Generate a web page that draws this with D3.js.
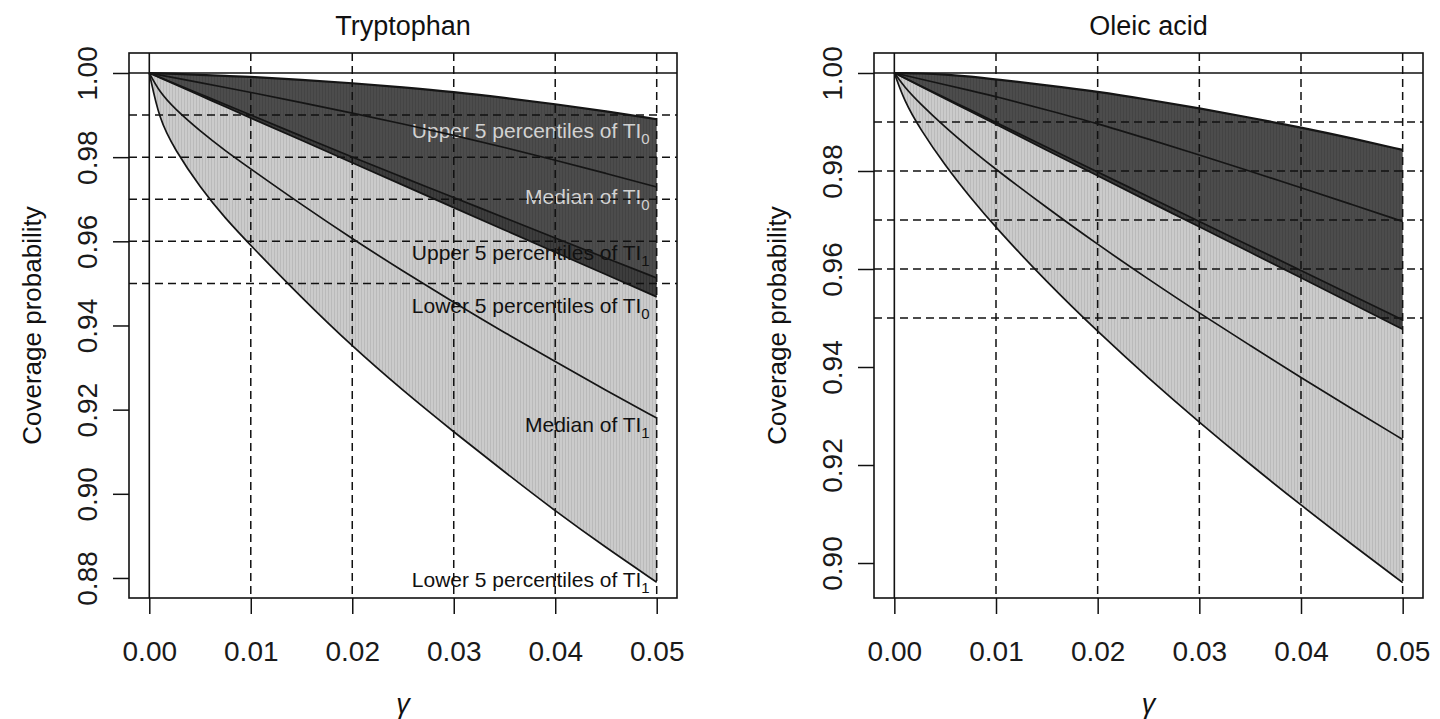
<!DOCTYPE html>
<html>
<head>
<meta charset="utf-8">
<script src="https://cdn.jsdelivr.net/npm/d3@7"></script>
<style>
  body { margin: 0; background: #fff; }
  svg { display: block; font-family: "Liberation Sans", Arial, sans-serif; }
</style>
</head>
<body>
<script>
// gamma grid shared by all curves
const gamma = [0, 0.001, 0.0025, 0.005, 0.0075, 0.01, 0.015, 0.02, 0.025, 0.03, 0.035, 0.04, 0.045, 0.05];

// Tryptophan
const tryUpperTI0  = [1, 0.99992, 0.9998, 0.99955, 0.9993, 0.9991, 0.9984, 0.9976, 0.9966, 0.9955, 0.9941, 0.9926, 0.9909, 0.989];
const tryMedianTI0 = [1, 0.99954, 0.99885, 0.9977, 0.99655, 0.9954, 0.99295, 0.9905, 0.9879, 0.9852, 0.9823, 0.9793, 0.97615, 0.9729];
const tryLowerTI0  = [1, 0.99893, 0.99732, 0.99465, 0.99197, 0.9893, 0.984, 0.9787, 0.97335, 0.968, 0.9627, 0.9574, 0.9521, 0.9468];
const tryUpperTI1  = [1, 0.999, 0.9975, 0.995, 0.9925, 0.99, 0.985, 0.98, 0.9752, 0.9704, 0.9656, 0.9608, 0.956, 0.9513];
const tryMedianTI1 = [1, 0.9955, 0.9915, 0.9862, 0.9815, 0.9772, 0.9687, 0.9606, 0.9529, 0.9455, 0.9383, 0.9314, 0.9246, 0.918];
const tryLowerTI1  = [1, 0.9888, 0.9819, 0.9728, 0.9654, 0.959, 0.9466, 0.935, 0.9245, 0.9147, 0.9052, 0.8959, 0.8872, 0.879];

// Oleic acid
const oleUpperTI0  = [1, 0.99998, 0.99992, 0.9997, 0.9993, 0.9987, 0.9975, 0.9962, 0.99455, 0.9928, 0.99088, 0.9889, 0.9867, 0.9843];
const oleMedianTI0 = [1, 0.99952, 0.9988, 0.9976, 0.9964, 0.9952, 0.99245, 0.9897, 0.9865, 0.9833, 0.97995, 0.9766, 0.97315, 0.9697];
const oleLowerTI0  = [1, 0.99895, 0.99738, 0.99475, 0.99213, 0.9895, 0.98425, 0.979, 0.9738, 0.9686, 0.9634, 0.9582, 0.95295, 0.9477];
const oleUpperTI1  = [1, 0.999, 0.99748, 0.99495, 0.99243, 0.9899, 0.98485, 0.9798, 0.97475, 0.9697, 0.9647, 0.9597, 0.95465, 0.9496];
const oleMedianTI1 = [1, 0.9971, 0.9938, 0.9889, 0.9845, 0.9803, 0.9725, 0.965, 0.9579, 0.951, 0.9444, 0.9378, 0.9315, 0.9252];
const oleLowerTI1  = [1, 0.9942, 0.9887, 0.9811, 0.9745, 0.9684, 0.9573, 0.9472, 0.9377, 0.9287, 0.9201, 0.9118, 0.9038, 0.896];

// axes, reference lines
const xTicks = [0, 0.01, 0.02, 0.03, 0.04, 0.05];
const tryYTicks = [0.88, 0.90, 0.92, 0.94, 0.96, 0.98, 1.00];
const oleYTicks = [0.90, 0.92, 0.94, 0.96, 0.98, 1.00];
const hDashed = [0.95, 0.96, 0.97, 0.98, 0.99];
const vDashed = [0.01, 0.02, 0.03, 0.04, 0.05];

// text labels in the Tryptophan panel: [main text, subscript, y value, light?]
const tryLabels = [
    ['Upper 5 percentiles of TI', '0', 0.9862, true],
    ['Median of TI', '0', 0.9705, true],
    ['Upper 5 percentiles of TI', '1', 0.9572, false],
    ['Lower 5 percentiles of TI', '0', 0.9446, false],
    ['Median of TI', '1', 0.9163, false],
    ['Lower 5 percentiles of TI', '1', 0.8795, false]
];

const W = 1440, H = 719;
const svg = d3.select('body').append('svg').attr('width', W).attr('height', H);

// vertical hatch patterns
const defs = svg.append('defs');
let pl = defs.append('pattern').attr('id', 'hatchLight').attr('patternUnits', 'userSpaceOnUse')
    .attr('width', 3).attr('height', 10);
pl.append('rect').attr('width', 3).attr('height', 10).attr('fill', '#cbcbcb');
pl.append('rect').attr('x', 1).attr('width', 1).attr('height', 10).attr('fill', '#bababa');
let pd = defs.append('pattern').attr('id', 'hatchDark').attr('patternUnits', 'userSpaceOnUse')
    .attr('width', 3).attr('height', 10);
pd.append('rect').attr('width', 3).attr('height', 10).attr('fill', 'rgba(0,0,0,0.70)');
pd.append('rect').attr('x', 1).attr('width', 1).attr('height', 10).attr('fill', 'rgba(0,0,0,0.10)');

function drawPanel(opt) {
    const x = d3.scaleLinear().domain([-0.002, 0.052]).range([opt.left, opt.right]);
    const y = d3.scaleLinear().domain(opt.yDomain).range([opt.bottom, opt.top]);
    const g = svg.append('g');

    const band = (lo, hi) => d3.area()
        .x((d, i) => x(gamma[i]))
        .y0((d, i) => y(lo[i]))
        .y1((d, i) => y(hi[i]))
        .curve(d3.curveBasis)(gamma);

    // TI1 band then TI0 band on top
    g.append('path').attr('d', band(opt.s.lowerTI1, opt.s.upperTI1)).attr('fill', 'url(#hatchLight)');
    g.append('path').attr('d', band(opt.s.lowerTI0, opt.s.upperTI0)).attr('fill', 'url(#hatchDark)');

    // labels
    if (opt.labels) {
        opt.labels.forEach(l => {
            let t = g.append('text')
                .attr('x', x(0.05) - 7)
                .attr('y', y(l[2]) + 7)
                .attr('text-anchor', 'end')
                .attr('font-size', 21)
                .attr('fill', l[3] ? '#d2d2d2' : '#111');
            t.append('tspan').text(l[0]);
            t.append('tspan').attr('font-size', 15).attr('dy', 6).text(l[1]);
        });
    }

    // reference lines
    g.selectAll('.hd').data(hDashed).enter().append('line')
        .attr('x1', opt.left).attr('x2', opt.right)
        .attr('y1', d => y(d)).attr('y2', d => y(d))
        .attr('stroke', '#111').attr('stroke-width', 1.5).attr('stroke-dasharray', '8,5');
    g.selectAll('.vd').data(vDashed).enter().append('line')
        .attr('y1', opt.top).attr('y2', opt.bottom)
        .attr('x1', d => x(d)).attr('x2', d => x(d))
        .attr('stroke', '#111').attr('stroke-width', 1.5).attr('stroke-dasharray', '8,5');
    g.append('line').attr('x1', opt.left).attr('x2', opt.right).attr('y1', y(1)).attr('y2', y(1))
        .attr('stroke', '#111').attr('stroke-width', 1.6);
    g.append('line').attr('x1', x(0)).attr('x2', x(0)).attr('y1', opt.top).attr('y2', opt.bottom)
        .attr('stroke', '#111').attr('stroke-width', 1.6);

    // curves
    const line = d3.line().x((d, i) => x(gamma[i])).y(d => y(d)).curve(d3.curveBasis);
    [opt.s.upperTI0, opt.s.medianTI0, opt.s.lowerTI0, opt.s.upperTI1, opt.s.medianTI1, opt.s.lowerTI1]
        .forEach((arr, k) => {
            g.append('path').attr('d', line(arr)).attr('fill', 'none')
                .attr('stroke', '#151515').attr('stroke-width', k === 0 ? 2.2 : 1.7);
        });

    // box
    g.append('rect').attr('x', opt.left).attr('y', opt.top)
        .attr('width', opt.right - opt.left).attr('height', opt.bottom - opt.top)
        .attr('fill', 'none').attr('stroke', '#111').attr('stroke-width', 1.6);

    // axes
    let ax = g.append('g').attr('transform', `translate(0,${opt.bottom})`)
        .call(d3.axisBottom(x).tickValues(xTicks).tickFormat(d3.format('.2f')).tickSize(16).tickSizeOuter(0));
    ax.select('.domain').remove();
    ax.selectAll('line').attr('stroke', '#111').attr('stroke-width', 1.5);
    ax.selectAll('text').attr('y', 63).attr('dy', 0).attr('font-size', 28).attr('fill', '#1a1a1a')
        .attr('font-family', '"Liberation Sans", Arial, sans-serif');

    let ay = g.append('g').attr('transform', `translate(${opt.left},0)`)
        .call(d3.axisLeft(y).tickValues(opt.yTicks).tickFormat(d3.format('.2f')).tickSize(16).tickSizeOuter(0));
    ay.select('.domain').remove();
    ay.selectAll('line').attr('stroke', '#111').attr('stroke-width', 1.5);
    ay.selectAll('text').attr('transform', 'rotate(-90)').attr('x', 0).attr('y', -32).attr('dy', 0)
        .attr('text-anchor', 'middle').attr('font-size', 28).attr('fill', '#1a1a1a')
        .attr('font-family', '"Liberation Sans", Arial, sans-serif');

    // titles
    const cx = (opt.left + opt.right) / 2, cy = (opt.top + opt.bottom) / 2;
    g.append('text').attr('x', cx).attr('y', 35).attr('text-anchor', 'middle')
        .attr('font-size', 27).attr('fill', '#111').text(opt.title);
    g.append('text').attr('x', cx).attr('y', 713).attr('text-anchor', 'middle')
        .attr('font-size', 27).attr('font-style', 'italic').attr('fill', '#111').text('γ');
    g.append('text').attr('transform', `translate(${opt.left - 88},${cy}) rotate(-90)`)
        .attr('text-anchor', 'middle').attr('font-size', 26).attr('fill', '#111').text('Coverage probability');
}

drawPanel({
    left: 129, right: 677, top: 53, bottom: 598,
    yDomain: [0.87524, 1.00475], yTicks: tryYTicks, title: 'Tryptophan', labels: tryLabels,
    s: { upperTI0: tryUpperTI0, medianTI0: tryMedianTI0, lowerTI0: tryLowerTI0,
         upperTI1: tryUpperTI1, medianTI1: tryMedianTI1, lowerTI1: tryLowerTI1 }
});
drawPanel({
    left: 874, right: 1423, top: 53, bottom: 598,
    yDomain: [0.89286, 1.00408], yTicks: oleYTicks, title: 'Oleic acid', labels: null,
    s: { upperTI0: oleUpperTI0, medianTI0: oleMedianTI0, lowerTI0: oleLowerTI0,
         upperTI1: oleUpperTI1, medianTI1: oleMedianTI1, lowerTI1: oleLowerTI1 }
});
</script>
</body>
</html>
